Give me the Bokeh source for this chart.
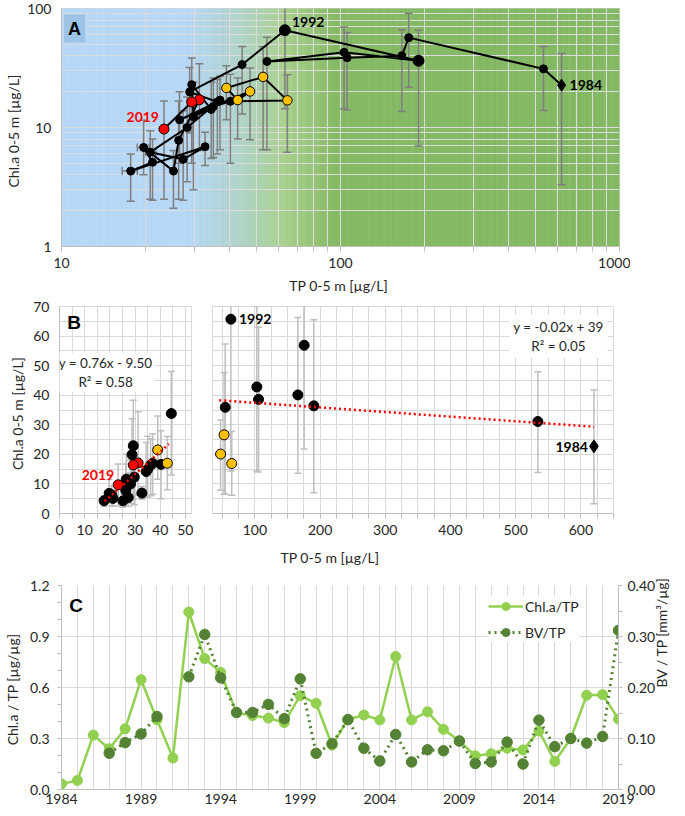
import numpy as np
from bokeh.plotting import figure
from bokeh.models import (ColumnDataSource, FixedTicker, Label, Legend, LegendItem,
                          LinearAxis, Range1d, NumeralTickFormatter, Title)
from bokeh.layouts import column, row
from bokeh.embed import file_html
from bokeh.resources import INLINE
from bokeh.core.properties import value

# ---------------- data ----------------
YEARS = list(range(1984, 2020))
TP = [620.0, 534.0, 175.6, 165.9, 105.6, 54.5, 103.0, 190.4, 63.2, 44.4,
      28.8, 36.2, 26.5, 47.4, 42.8, 39.0, 52.8, 64.5, 40.3, 35.0,
      29.7, 29.3, 34.4, 37.0, 28.2, 20.8, 27.3, 32.7, 17.7, 21.2,
      19.7, 25.2, 26.3, 31.2, 29.3, 23.3]
CHL = [22.7, 31.1, 56.9, 40.1, 38.6, 35.9, 42.8, 36.4, 65.7, 33.8,
       19.9, 16.4, 11.6, 20.1, 17.0, 21.5, 26.6, 16.9, 16.6, 15.0,
       12.3, 22.9, 14.2, 17.0, 10.0, 6.2, 5.4, 6.9, 4.3, 5.1,
       6.8, 4.3, 7.8, 17.1, 16.4, 9.7]
CHL_LO = [3.3, 13.9, 21.8, 13.6, 14.0, 6.5, 14.4, 7.0, 14.4, 13.0,
          9.0, 6.0, 5.0, 7.9, 8.0, 11.6, 6.5, 6.2, 5.0, 5.6,
          3.0, 6.2, 5.5, 6.5, 3.5, 2.5, 2.45, 4.8, 2.4, 2.45,
          4.0, 2.1, 2.5, 6.4, 5.0, 2.5]
CHL_HI = [41.8, 47.9, 91.0, 66.3, 63.0, 57.3, 70.0, 65.5, 150.0, 48.0,
          32.0, 25.3, 20.0, 31.6, 26.0, 33.0, 47.7, 27.7, 28.0, 26.1,
          24.0, 38.3, 24.0, 27.0, 18.0, 9.4, 13.8, 9.1, 6.0, 8.0,
          11.5, 6.4, 16.7, 34.4, 24.0, 16.7]
TP_BAR_YEARS = [2009, 2012, 2014]
TP_BAR_LO = [20.0, 16.5, 18.7]
TP_BAR_HI = [21.8, 18.7, 20.6]

CHL_TP = [0.033, 0.053, 0.32, 0.24, 0.357, 0.646, 0.41, 0.185, 1.044, 0.77,
          0.689, 0.452, 0.435, 0.42, 0.394, 0.552, 0.507, 0.26, 0.412, 0.438,
          0.409, 0.782, 0.409, 0.457, 0.354, 0.286, 0.198, 0.21, 0.243, 0.233,
          0.344, 0.165, 0.30, 0.554, 0.558, 0.414]
BV_TP = [np.nan, np.nan, np.nan, 0.071, 0.092, 0.109, 0.143, np.nan, 0.221, 0.304,
         0.219, 0.151, 0.151, 0.167, 0.139, 0.217, 0.071, 0.090, 0.137, 0.081,
         0.056, 0.108, 0.054, 0.078, 0.076, 0.095, 0.051, 0.054, 0.093, 0.050,
         0.136, 0.084, 0.100, 0.091, 0.104, 0.312]

YELLOW_YEARS = [1997, 1998, 1999, 2000, 2001]
RED_YEARS = [2017, 2018, 2019]
LARGE_YEARS = [1991, 1992]
DIAMOND_YEARS = [1984]
SPLIT_TP = 45.0
TREND_LEFT = (0.76, -9.50)
TREND_LEFT_X = [17.9, 43.4]
TREND_RIGHT = (-0.0156, 39.0)
TREND_RIGHT_X = [45.4, 620.0]
EQ_LEFT = "y = 0.76x - 9.50\nR\u00b2 = 0.58"
EQ_RIGHT = "y = -0.02x + 39\nR\u00b2 = 0.05"

# ---------------- styles ----------------
FONT = "Lato"
TXT = "#262626"
GRID = "#d9d9d9"
AXIS = "#bfbfbf"
EB_A = "#7f7f7f"
EB_B = "#bfbfbf"
YEL = "#ffc000"
RED = "#ff0000"
LG = "#92d050"
DG = "#548235"
BG_STOPS = [(0.0, "#b6d7f6"), (0.46, "#b6d7f6"), (0.63, "#afd3cc"),
            (0.80, "#a8d08d"), (0.98, "#84b963"), (2.0, "#82b862")]


def hex2rgb(h):
    return tuple(int(h[i:i + 2], 16) for i in (1, 3, 5))


def grad_color(t):
    for (t0, c0), (t1, c1) in zip(BG_STOPS[:-1], BG_STOPS[1:]):
        if t0 <= t <= t1:
            f = 0.0 if t1 == t0 else (t - t0) / (t1 - t0)
            a, b = hex2rgb(c0), hex2rgb(c1)
            return "#%02x%02x%02x" % tuple(int(round(x + (y - x) * f)) for x, y in zip(a, b))
    return BG_STOPS[-1][1]


def style_axis(ax, label=None, standoff=5, label_standoff=5, tick_out=0, minor_out=0):
    ax.axis_line_color = AXIS
    ax.major_tick_line_color = AXIS
    ax.minor_tick_line_color = AXIS
    ax.major_tick_in = 0
    ax.minor_tick_in = 0
    ax.major_tick_out = tick_out
    ax.minor_tick_out = minor_out
    ax.major_label_text_font = FONT
    ax.major_label_text_font_size = "14px"
    ax.major_label_text_color = TXT
    ax.axis_label_text_font = FONT
    ax.axis_label_text_font_size = "14px"
    ax.axis_label_text_font_style = "normal"
    ax.axis_label_text_color = TXT
    ax.major_label_standoff = standoff
    ax.axis_label_standoff = label_standoff
    if label:
        ax.axis_label = label


def subset(idx):
    return dict(tp=[TP[i] for i in idx], chl=[CHL[i] for i in idx],
                lo=[CHL_LO[i] for i in idx], hi=[CHL_HI[i] for i in idx])


def vbars(p, d, color, width, cap):
    src = ColumnDataSource(dict(x=d["tp"], lo=d["lo"], hi=d["hi"]))
    p.segment(x0="x", y0="lo", x1="x", y1="hi", source=src, line_color=color, line_width=width)
    for key in ("lo", "hi"):
        p.scatter(x="x", y=key, source=src, marker="dash", size=cap,
                  line_color=color, line_width=width, fill_color=None)


def markers(p, d_idx, sizes):
    special = set(YELLOW_YEARS + RED_YEARS + DIAMOND_YEARS + LARGE_YEARS)
    groups = [
        ([i for i in d_idx if YEARS[i] not in special], "circle", "black", sizes["n"]),
        ([i for i in d_idx if YEARS[i] in LARGE_YEARS], "circle", "black", sizes["l"]),
        ([i for i in d_idx if YEARS[i] in YELLOW_YEARS], "circle", YEL, sizes["y"]),
        ([i for i in d_idx if YEARS[i] in RED_YEARS], "circle", RED, sizes["r"]),
        ([i for i in d_idx if YEARS[i] in DIAMOND_YEARS], "diamond", "black", sizes["d"]),
    ]
    for idx, mk, col, sz in groups:
        if not idx:
            continue
        p.scatter(x=[TP[i] for i in idx], y=[CHL[i] for i in idx], marker=mk, size=sz,
                  fill_color=col, line_color="black", line_width=1)


def year_text(p, yr, color, align, xo, yo):
    i = YEARS.index(yr)
    p.text(x=[TP[i]], y=[CHL[i]], text=[str(yr)], text_align=align, text_baseline="middle",
           x_offset=xo, y_offset=yo, text_font=value(FONT), text_font_style="bold",
           text_font_size="14px", text_color=color)


def panel_letter(p, txt, x, y, size, bg=None):
    kw = dict(background_fill_color=bg, padding=4) if bg else {}
    p.add_layout(Label(x=x, y=y, x_units="screen", y_units="screen", text=txt,
                       text_align="center", text_baseline="middle",
                       text_font="Liberation Sans", text_font_style="bold",
                       text_font_size=size, text_color="black", **kw))


ALL = list(range(len(YEARS)))

# ================= Panel A =================
xtA = FixedTicker(ticks=[10, 100, 1000],
                  minor_ticks=[20, 30, 40, 50, 60, 70, 80, 90, 200, 300, 400, 500, 600, 700, 800, 900])
ytA = FixedTicker(ticks=[1, 10, 100],
                  minor_ticks=[2, 3, 4, 5, 6, 7, 8, 9, 20, 30, 40, 50, 60, 70, 80, 90])
pA = figure(frame_width=558, frame_height=238, x_axis_type="log", y_axis_type="log",
            x_range=Range1d(10, 1000), y_range=Range1d(1, 100),
            output_backend="svg", toolbar_location=None,
            min_border_left=58, min_border_right=13, min_border_top=8, min_border_bottom=52)
pA.outline_line_color = GRID
edges = np.logspace(1, 3, 241)
cols = [grad_color(np.log10(np.sqrt(a * b)) - 1.0) for a, b in zip(edges[:-1], edges[1:])]
pA.quad(left=edges[:-1], right=edges[1:], bottom=1, top=100, fill_color=cols,
        line_color=cols, line_width=0.6, level="image")
pA.xaxis.ticker = xtA
pA.yaxis.ticker = ytA
pA.xgrid.ticker = xtA
pA.ygrid.ticker = ytA
for g in (pA.xgrid, pA.ygrid):
    g.grid_line_color = "#dcdcdc"
    g.minor_grid_line_color = "#dcdcdc"
pA.xaxis.formatter = NumeralTickFormatter(format="0")
pA.yaxis.formatter = NumeralTickFormatter(format="0")
style_axis(pA.xaxis[0], "TP 0-5 m  [\u00b5g/L]", standoff=6, label_standoff=6, tick_out=5, minor_out=5)
style_axis(pA.yaxis[0], "Chl.a  0-5 m  [\u00b5g/L]", standoff=10, label_standoff=2)

dA = subset(ALL)
vbars(pA, dA, EB_A, 1.5, 8)
tb = ColumnDataSource(dict(lo=TP_BAR_LO, hi=TP_BAR_HI, y=[CHL[YEARS.index(y)] for y in TP_BAR_YEARS]))
pA.segment(x0="lo", y0="y", x1="hi", y1="y", source=tb, line_color=EB_A, line_width=1.5)
for key in ("lo", "hi"):
    pA.scatter(x=key, y="y", source=tb, marker="dash", angle=np.pi / 2, size=8,
               line_color=EB_A, line_width=1.5, fill_color=None)
pA.line(x=TP, y=CHL, line_color="black", line_width=2)
markers(pA, ALL, dict(n=8, l=11, y=9.5, r=10, d=12))
year_text(pA, 1992, "black", "left", 7, -8)
year_text(pA, 1984, "black", "left", 8, 0)
year_text(pA, 2019, RED, "right", -5, -12)
panel_letter(pA, "A", 13, 218, "18px", bg="#9dc3e6")

# ================= Panel B =================
ytB = FixedTicker(ticks=list(range(0, 71, 10)), minor_ticks=list(range(5, 70, 10)))
pBL = figure(frame_width=132, frame_height=207, x_range=Range1d(0, 52.4), y_range=Range1d(0, 70),
             output_backend="svg", toolbar_location=None,
             min_border_left=59, min_border_right=2, min_border_top=8, min_border_bottom=59)
pBR = figure(frame_width=401, frame_height=207, x_range=Range1d(35, 650), y_range=Range1d(0, 70),
             output_backend="svg", toolbar_location=None,
             min_border_left=19, min_border_right=17, min_border_top=8, min_border_bottom=59)
xtBL = FixedTicker(ticks=list(range(0, 51, 10)), minor_ticks=list(range(5, 51, 10)))
xtBR = FixedTicker(ticks=list(range(100, 601, 100)),
                   minor_ticks=[v for v in range(50, 651, 25) if v % 100 != 0])
for p, xt in ((pBL, xtBL), (pBR, xtBR)):
    p.outline_line_color = GRID
    p.xaxis.ticker = xt
    p.xgrid.ticker = xt
    p.yaxis.ticker = ytB
    p.ygrid.ticker = ytB
    for g in (p.xgrid, p.ygrid):
        g.grid_line_color = GRID
        g.minor_grid_line_color = GRID
    style_axis(p.xaxis[0], None, standoff=6, tick_out=5, minor_out=5)
style_axis(pBL.yaxis[0], "Chl.a  0-5 m  [\u00b5g/L]", standoff=10, label_standoff=4)
pBR.yaxis.visible = False

idxL = [i for i in ALL if TP[i] < SPLIT_TP]
idxR = [i for i in ALL if TP[i] >= SPLIT_TP]
for p, idx in ((pBL, idxL), (pBR, idxR)):
    vbars(p, subset(idx), EB_B, 1.5, 7)
    markers(p, idx, dict(n=10, l=10, y=10, r=10, d=13))

tl = TREND_LEFT
pBL.line(x=TREND_LEFT_X, y=[tl[0] * x + tl[1] for x in TREND_LEFT_X],
         line_color=RED, line_width=2.5, line_dash="2 3")
tr = TREND_RIGHT
pBR.line(x=TREND_RIGHT_X, y=[tr[0] * x + tr[1] for x in TREND_RIGHT_X],
         line_color=RED, line_width=2.5, line_dash="2 3")

pBL.add_layout(Label(x=18.3, y=47.7, text=EQ_LEFT, text_align="center", text_baseline="middle",
                     text_font=FONT, text_font_size="13.5px", text_color=TXT,
                     background_fill_color="white", padding=2))
pBR.add_layout(Label(x=565.5, y=59.9, text=EQ_RIGHT, text_align="center", text_baseline="middle",
                     text_font=FONT, text_font_size="13.5px", text_color=TXT,
                     background_fill_color="white", padding=4))
year_text(pBR, 1992, "black", "left", 8, 0)
year_text(pBR, 1984, "black", "right", -6, 1)
year_text(pBL, 2019, RED, "right", -4, -10)
panel_letter(pBL, "B", 14.5, 191, "19px")
pBR.add_layout(Title(text="TP 0-5 m  [\u00b5g/L]", align="left", offset=68, standoff=18,
                     text_font=FONT, text_font_size="14px", text_font_style="normal",
                     text_color=TXT), "below")

# ================= Panel C =================
pC = figure(frame_width=557, frame_height=204, x_range=Range1d(1984, 2019), y_range=Range1d(0, 1.2),
            output_backend="svg", toolbar_location=None,
            min_border_left=59, min_border_right=20, min_border_top=11, min_border_bottom=21)
pC.outline_line_color = None
pC.extra_y_ranges = {"bv": Range1d(0, 0.4)}
xtC = FixedTicker(ticks=list(range(1984, 2020, 5)), minor_ticks=YEARS)
ytC = FixedTicker(ticks=[0, 0.3, 0.6, 0.9, 1.2], minor_ticks=[0.1, 0.2, 0.4, 0.5, 0.7, 0.8, 1.0, 1.1])
pC.xaxis.ticker = xtC
pC.xgrid.ticker = xtC
pC.xgrid.grid_line_color = GRID
pC.xgrid.minor_grid_line_color = GRID
pC.yaxis.ticker = ytC
pC.ygrid.ticker = ytC
pC.ygrid.grid_line_color = GRID
pC.xaxis.formatter = NumeralTickFormatter(format="0")
pC.yaxis.formatter = NumeralTickFormatter(format="0.0")
style_axis(pC.xaxis[0], None, standoff=4)
style_axis(pC.yaxis[0], "Chl.a / TP  [\u00b5g/\u00b5g]", standoff=8, label_standoff=6, tick_out=4, minor_out=4)
axR = LinearAxis(y_range_name="bv",
                 ticker=FixedTicker(ticks=[0, 0.1, 0.2, 0.3, 0.4], minor_ticks=[0.05, 0.15, 0.25, 0.35]),
                 formatter=NumeralTickFormatter(format="0.00"))
style_axis(axR, "BV / TP  [mm\u00b3/\u00b5g]", standoff=5, label_standoff=3, tick_out=4, minor_out=4)
axR.axis_label_orientation = float(np.pi / 2)
pC.add_layout(axR, "right")

srcC = ColumnDataSource(dict(year=np.array(YEARS, dtype=float), chl_tp=np.array(CHL_TP, dtype=float),
                             bv_tp=np.array(BV_TP, dtype=float)))
l1 = pC.line("year", "chl_tp", source=srcC, line_color=LG, line_width=2.5)
s1 = pC.scatter("year", "chl_tp", source=srcC, size=10, fill_color=LG, line_color=LG)
l2 = pC.line("year", "bv_tp", source=srcC, y_range_name="bv", line_color=DG, line_width=3, line_dash="2 4")
s2 = pC.scatter("year", "bv_tp", source=srcC, y_range_name="bv", size=10.5, fill_color=DG, line_color=DG)
leg = Legend(items=[LegendItem(label="Chl.a/TP", renderers=[l1, s1]),
                    LegendItem(label="BV/TP", renderers=[l2, s2])],
             location=(427, 147), glyph_width=35, glyph_height=20, label_height=20,
             label_standoff=2, spacing=6, padding=4, margin=0,
             border_line_color=None, background_fill_color="white", background_fill_alpha=1.0,
             label_text_font=FONT, label_text_font_size="14px", label_text_color=TXT)
pC.add_layout(leg)
panel_letter(pC, "C", 14.5, 184, "19px")

layout = column(pA, row(pBL, pBR), pC)
open("out.html", "w").write(file_html(layout, INLINE))
